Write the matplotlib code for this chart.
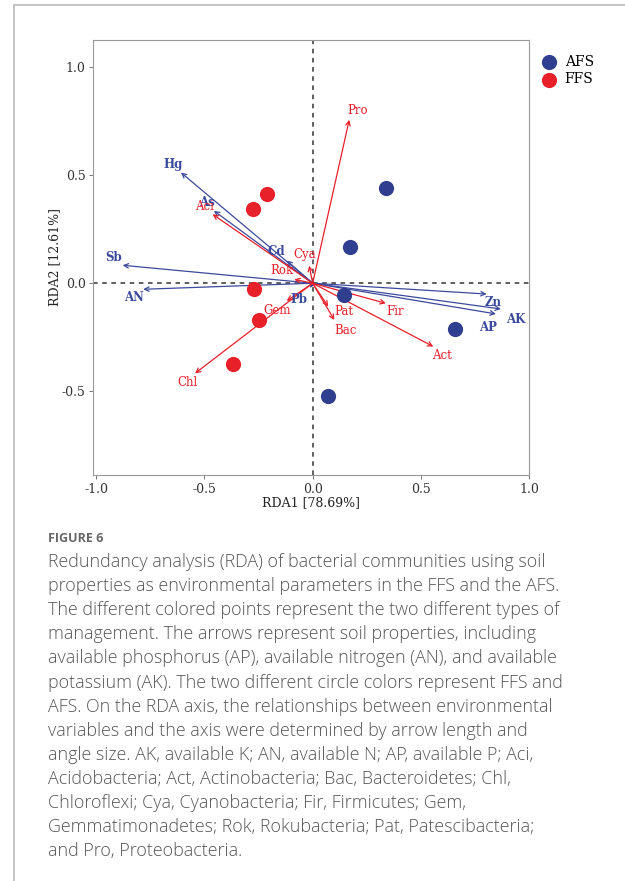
import matplotlib
matplotlib.use('Agg')
import matplotlib.pyplot as plt
from matplotlib.lines import Line2D

plt.rcParams.update({
    'font.family': 'DejaVu Serif',
    'font.size': 9,
    'axes.unicode_minus': False,
})

# sample scores
afs_x = [0.338, 0.174, 0.145, 0.657, 0.071]
afs_y = [0.440, 0.168, -0.054, -0.210, -0.520]
ffs_x = [-0.212, -0.276, -0.272, -0.246, -0.369]
ffs_y = [0.412, 0.343, -0.025, -0.170, -0.375]

# environmental arrows (blue)
env_names = ['Hg', 'As', 'Cd', 'Sb', 'AN', 'Pb', 'Zn', 'AK', 'AP']
env_x = [-0.608, -0.456, -0.120, -0.877, -0.782, -0.012, 0.803, 0.869, 0.846]
env_y = [0.512, 0.335, 0.105, 0.083, -0.028, -0.022, -0.050, -0.119, -0.142]
env_lab_x = [-0.644, -0.490, -0.170, -0.917, -0.825, -0.062, 0.834, 0.939, 0.810]
env_lab_y = [0.548, 0.373, 0.146, 0.118, -0.067, -0.074, -0.088, -0.167, -0.204]

# taxa arrows (red)
tax_names = ['Pro', 'Aci', 'Cya', 'Rok', 'Gem', 'Chl', 'Pat', 'Bac', 'Fir', 'Act']
tax_x = [0.169, -0.462, -0.016, -0.085, -0.120, -0.543, 0.072, 0.100, 0.338, 0.557]
tax_y = [0.756, 0.319, 0.081, 0.018, -0.082, -0.417, -0.108, -0.170, -0.093, -0.293]
tax_lab_x = [0.210, -0.500, -0.035, -0.140, -0.163, -0.579, 0.146, 0.154, 0.380, 0.596]
tax_lab_y = [0.798, 0.355, 0.131, 0.058, -0.128, -0.460, -0.131, -0.219, -0.131, -0.335]

xticks = [-1.0, -0.5, 0.0, 0.5, 1.0]
yticks = [-0.5, 0.0, 0.5, 1.0]

caption_title = 'FIGURE 6'
caption_lines = [
    'Redundancy analysis (RDA) of bacterial communities using soil',
    'properties as environmental parameters in the FFS and the AFS.',
    'The different colored points represent the two different types of',
    'management. The arrows represent soil properties, including',
    'available phosphorus (AP), available nitrogen (AN), and available',
    'potassium (AK). The two different circle colors represent FFS and',
    'AFS. On the RDA axis, the relationships between environmental',
    'variables and the axis were determined by arrow length and',
    'angle size. AK, available K; AN, available N; AP, available P; Aci,',
    'Acidobacteria; Act, Actinobacteria; Bac, Bacteroidetes; Chl,',
    'Chloroflexi; Cya, Cyanobacteria; Fir, Firmicutes; Gem,',
    'Gemmatimonadetes; Rok, Rokubacteria; Pat, Patescibacteria;',
    'and Pro, Proteobacteria.',
]

BLUE = '#3B4A9C'
BLUE_PT = '#2F3E8E'
RED = '#E8202A'
W, H = 625, 881

fig = plt.figure(figsize=(W / 100, H / 100), dpi=100)

# card border (top + left)
fig.add_artist(Line2D([14 / W, 14 / W], [0, 1 - 5 / H], color='#c4c4c4', lw=1.4))
fig.add_artist(Line2D([14 / W, 1], [1 - 5 / H, 1 - 5 / H], color='#c4c4c4', lw=1.4))

ax = fig.add_axes([93.3 / W, 1 - 475 / H, 436 / W, 435 / H])
ax.set_xlim(-1.0125, 1.0)
ax.set_ylim(-0.887, 1.125)
ax.axhline(0, color='#333333', lw=1.1, ls=(0, (3, 3)), zorder=1)
ax.axvline(0, color='#333333', lw=1.1, ls=(0, (3, 3)), zorder=1)

for x, y in zip(env_x, env_y):
    ax.annotate('', xy=(x, y), xytext=(0, 0),
                arrowprops=dict(arrowstyle='->', color=BLUE, lw=0.9,
                                mutation_scale=8, shrinkA=0, shrinkB=0), zorder=3)
for x, y in zip(tax_x, tax_y):
    ax.annotate('', xy=(x, y), xytext=(0, 0),
                arrowprops=dict(arrowstyle='->', color=RED, lw=0.9,
                                mutation_scale=8, shrinkA=0, shrinkB=0), zorder=3)

ax.scatter(afs_x, afs_y, s=120, color=BLUE_PT, zorder=4, linewidths=0, label='AFS')
ax.scatter(ffs_x, ffs_y, s=120, color=RED, zorder=4, linewidths=0, label='FFS')

for n, x, y in zip(env_names, env_lab_x, env_lab_y):
    ax.text(x, y, n, color=BLUE, fontsize=8.5, fontweight='bold',
            ha='center', va='center', zorder=5)
for n, x, y in zip(tax_names, tax_lab_x, tax_lab_y):
    ax.text(x, y, n, color=RED, fontsize=8.5, ha='center', va='center', zorder=5)

ax.set_xticks(xticks)
ax.set_yticks(yticks)
ax.tick_params(colors='#333333', length=3, width=0.7, labelsize=9, color='#777777',
               pad=2.5)
for s in ax.spines.values():
    s.set_color('#999999')
    s.set_linewidth(0.8)
ax.set_xlabel('RDA1 [78.69%]', fontsize=9, color='#222222', labelpad=0)
ax.set_ylabel('RDA2 [12.61%]', fontsize=9, color='#222222', labelpad=0.5)

ax.legend(loc='upper left', bbox_to_anchor=(1.0, 0.978), frameon=False,
          fontsize=10, handletextpad=0.15, labelspacing=0.22, markerscale=1.0,
          borderaxespad=0)

# caption
fig.text(48 / W, 1 - 538 / H, caption_title, fontsize=9, color='#666666',
         fontweight='bold', family='Open Sans', va='center')
for i, line in enumerate(caption_lines):
    fig.text(48 / W, 1 - (562 + i * 24.1) / H, line, fontsize=12.9,
             color='#555555', family='Open Sans', fontweight='light', va='center')

fig.savefig('out.png', dpi=100)
